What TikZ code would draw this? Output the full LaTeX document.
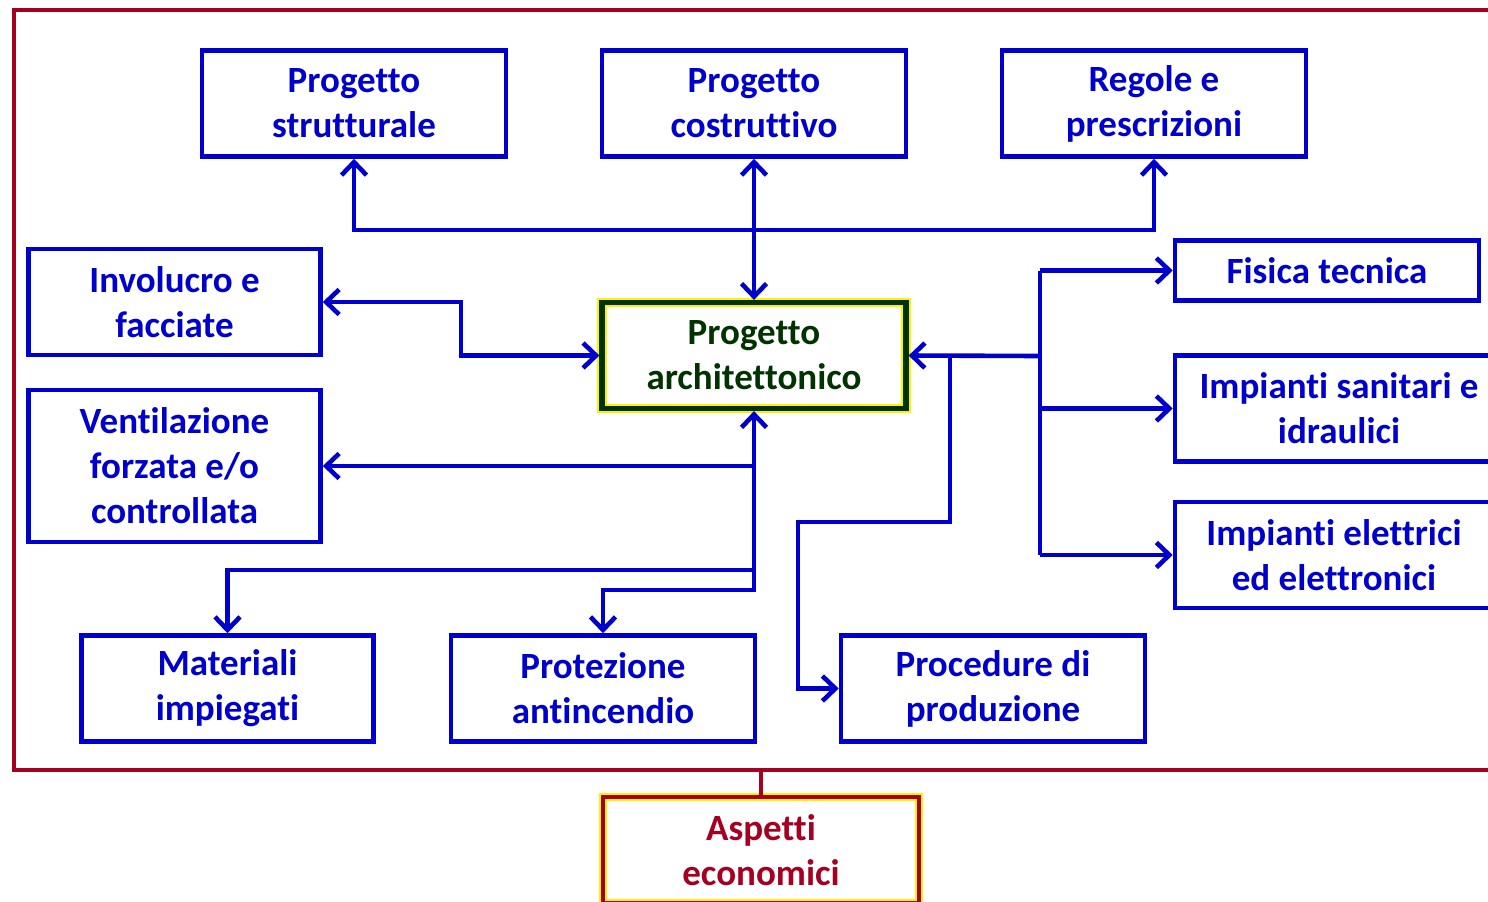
\documentclass[tikz,border=0pt]{standalone}
\usepackage{fontspec}
\setmainfont{Carlito}[RawFeature=-liga, RawFeature=-clig, RawFeature=-calt, RawFeature=-dlig]
\usetikzlibrary{arrows.meta,calc}
\definecolor{boxblue}{HTML}{0000CC}
\definecolor{archgreen}{HTML}{003300}
\definecolor{framered}{HTML}{A50021}
\tikzset{
        box/.style={draw=boxblue, line width=2.3pt, text=boxblue, align=center, inner sep=0pt,
                minimum width=152pt, minimum height=53pt,
                font=\fontsize{18.5}{22.5}\selectfont\bfseries},
        link/.style={draw=boxblue, line width=2.3pt},
        frame/.style={draw=framered, line width=2pt},
        >={Straight Barb[length=6.5pt,width=12.5pt]}
}
\begin{document}
\begin{tikzpicture}[x=0.5pt, y=-0.5pt]
        \useasboundingbox (0,0) rectangle (1488,901);
        \clip (0,0) rectangle (1488,901);

        \coordinate (fr1) at (14,10);
        \coordinate (fr2) at (1520,770);
        \draw[frame] (fr1) rectangle (fr2);

        \node[box] (strutt) at (354,103.5) {Progetto\\strutturale};
        \node[box] (costr) at (754,103.5) {Progetto\\costruttivo};
        \node[box] (regole) at (1154,103.5) {Regole e\\prescrizioni};

        \node[box, minimum width=146pt] (invol) at (174.5,302) {Involucro e\\facciate};
        \node[box, minimum width=146pt, minimum height=76pt] (ventil) at (174.5,466) {Ventilazione\\forzata e/o\\controllata};

        \node[box, draw=archgreen, text=archgreen, line width=2.6pt,
                preaction={draw=yellow, line width=4.6pt}] (arch) at (754,355.5) {Progetto\\architettonico};

        \node[box, minimum height=30pt] (fisica) at (1327,270.5) {Fisica tecnica};
        \node[box, minimum width=164pt] (sanit) at (1339,408.5) {Impianti sanitari e\\idraulici};
        \node[box, minimum width=159pt] (elett) at (1334,555) {Impianti elettrici\\ed elettronici};

        \node[box, minimum width=146pt] (mater) at (227.5,688.5) {Materiali\\impiegati};
        \node[box] (prot) at (603,688.5) {Protezione\\antincendio};
        \node[box] (proc) at (993,688.5) {Procedure di\\produzione};

        \node[box, draw=framered, text=framered, minimum width=158pt,
                preaction={draw=yellow, line width=4.2pt}] (aspetti) at (761,850) {Aspetti\\economici};

        \coordinate (topbus) at (754,230);
        \draw[link, <->] (strutt.south) |- (topbus) -| (regole.south);
        \draw[link, <->] (costr.south) -- (arch.north);

        \draw[link, <->] (invol.east) -- ++(138,0) |- (arch.west);

        \coordinate (sbus) at (754,590);
        \coordinate (mbus) at (754,570);
        \draw[link, <->] (arch.south) -- (sbus) -| (prot.north);
        \draw[link, ->] (arch.south |- ventil.east) -- (ventil.east);
        \draw[link, ->] (mbus) -| (mater.north);

        \coordinate (rbus) at (1040,356);
        \draw[link, <-] (arch.east) -- (rbus);
        \draw[link] (rbus |- fisica.west) -- (rbus |- elett.west);
        \draw[link, ->] (rbus |- fisica.west) -- (fisica.west);
        \draw[link, ->] (rbus |- sanit.west) -- (sanit.west);
        \draw[link, ->] (rbus |- elett.west) -- (elett.west);

        \coordinate (pbend) at (950,522);
        \draw[link, ->] (pbend |- arch.east) -- (pbend) -- ++(-152,0) |- (proc.west);

        \draw[frame] (aspetti.north) -- (aspetti.north |- fr2);
\end{tikzpicture}
\end{document}
